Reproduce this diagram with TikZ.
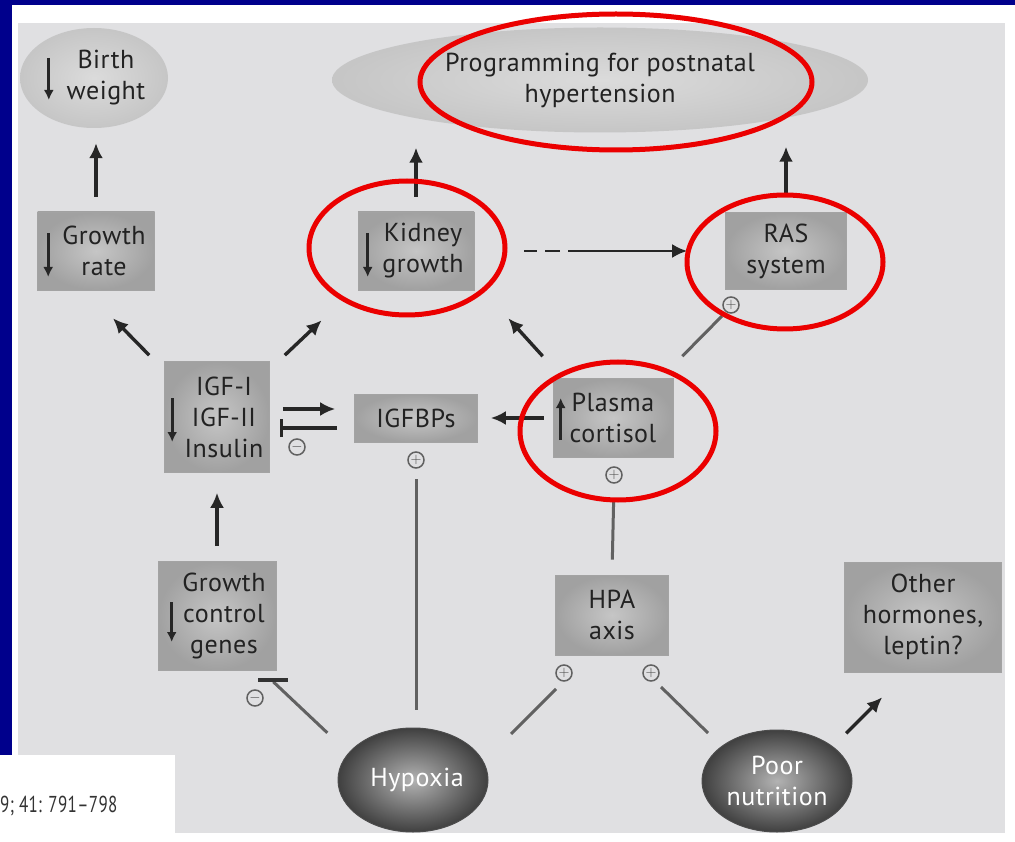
\documentclass[tikz,border=0pt]{standalone}
\usepackage{fontspec}
\setmainfont{PT Sans}[LetterSpace=2.0]
\usetikzlibrary{arrows.meta,calc,shapes.geometric}
\definecolor{navy}{RGB}{0,0,140}
\definecolor{panel}{RGB}{224,224,226}
\definecolor{txt}{RGB}{34,34,34}
\definecolor{redring}{RGB}{235,0,0}
\begin{document}
\begin{tikzpicture}[x=1pt,y=-1pt,
  font=\fontsize{26}{31}\selectfont,
  box/.style={rectangle, inner color=gray!45, outer color=gray!74, draw=gray!72, line width=0.6pt, text=txt, align=center, inner sep=0pt},
  lightell/.style={ellipse, inner color=gray!28, outer color=gray!45, text=txt, align=center, inner sep=0pt},
  darkell/.style={ellipse, inner color=black!30, outer color=black!75, draw=black!70, line width=1pt, text=white, align=center, inner sep=0pt},
  arr/.style={draw=black!85, line width=3.4pt, -{Latex[length=15pt,width=14pt]}},
  dnarr/.style={draw=black!85, line width=3.2pt, -{Latex[length=10pt,width=10pt]}},
  inh/.style={draw=black!85, line width=3.4pt, -{Bar[width=18pt,line width=3.4pt]}},
  pline/.style={draw=black!62, line width=3pt},
  sign/.style={circle, draw=black!62, line width=1.5pt, minimum size=16pt, inner sep=0pt, text=black!72, font=\fontsize{15}{15}\selectfont\bfseries},
  ring/.style={draw=redring, line width=5pt},
]
% background
\fill[navy] (0,0) rectangle (1015,842);
\fill[white] (12,5) rectangle (1015,842);
\fill[panel] (18,23) rectangle (1005,833);
\fill[white] (0,755) rectangle (175,842);
\useasboundingbox (0,0) rectangle (1015,842);
\node[anchor=west, inner sep=0pt, text=black!80, font=\fontsize{23}{23}\selectfont, xscale=0.74] (cite) at (0,806) {9; 41: 791–798};

% nodes
\node[lightell, minimum width=148pt, minimum height=100pt] (bw) at (94,78) {\hspace*{24pt}Birth\\\hspace*{24pt}weight};
\node[lightell, minimum width=536pt, minimum height=105pt] (prog) at (600,80) {Programming for postnatal\\hypertension};
\node[box, minimum width=117pt, minimum height=78pt] (gr) at (96,251) {\hspace*{16pt}Growth\\\hspace*{16pt}rate};
\node[box, minimum width=116pt, minimum height=78pt] (kg) at (416,251) {\hspace*{14pt}Kidney\\\hspace*{14pt}growth};
\node[box, minimum width=121pt, minimum height=77pt] (ras) at (786,251) {RAS\\system};
\node[box, minimum width=105pt, minimum height=111pt] (igf) at (217,417) {\hspace*{14pt}IGF-I\\\hspace*{14pt}IGF-II\\\hspace*{14pt}Insulin};
\node[box, minimum width=123pt, minimum height=48pt] (igfbps) at (416,418) {IGFBPs};
\node[box, minimum width=120pt, minimum height=79pt] (pc) at (613,418) {Plasma\\cortisol};
\node[box, minimum width=118pt, minimum height=109pt] (gcg) at (217,616) {\hspace*{14pt}Growth\\\hspace*{14pt}control\\\hspace*{14pt}genes};
\node[box, minimum width=113pt, minimum height=80pt] (hpa) at (612,615) {HPA\\axis};
\node[box, minimum width=157pt, minimum height=110pt] (oh) at (923,617) {Other\\hormones,\\leptin?};
\node[darkell, minimum width=150pt, minimum height=104pt] (hyp) at (413,780) {\hspace*{8pt}Hypoxia};
\node[darkell, minimum width=150pt, minimum height=102pt] (pn) at (777,781) {Poor\\nutrition};

% signs
\node[sign] (rasp) at (731,305) {$+$};
\node[sign] (pcp) at (614,475) {$+$};
\node[sign] (ibp) at (416,460) {$+$};
\node[sign] (igfm) at (297,447) {$-$};
\node[sign] (gcgm) at (255,698) {$-$};
\node[sign] (hpaL) at (564,673) {$+$};
\node[sign] (hpaR) at (651,673) {$+$};

% small arrows inside nodes
\draw[dnarr] ($(bw.west)+(29,-20)$) -- ($(bw.west)+(29,22)$);
\draw[dnarr] ($(gr.west)+(11,-18)$) -- ($(gr.west)+(11,26)$);
\draw[dnarr] ($(kg.west)+(10,-18)$) -- ($(kg.west)+(10,26)$);
\draw[dnarr] ($(igf.west)+(8,-19)$) -- ($(igf.west)+(8,25)$);
\draw[dnarr] ($(gcg.west)+(14,-14)$) -- ($(gcg.west)+(14,26)$);
\draw[dnarr] ($(pc.west)+(8,22)$) -- ($(pc.west)+(8,-20)$);

% connectors
\draw[arr, shorten <=15pt, shorten >=15pt] (gr.north) -- (gr.north |- bw.south);
\draw[arr, shorten <=15pt, shorten >=15pt] (kg.north) -- (kg.north |- prog.south);
\draw[arr, shorten <=17pt, shorten >=14pt] (ras.north) -- (ras.north |- prog.south);
\draw[arr, line width=2.8pt, dash pattern=on 13pt off 8pt on 15pt off 8pt on 400pt, shorten <=50pt, shorten >=38pt] (kg.east) -- (ras.west);
\draw[arr] ($(igf.north west)+(-15,-6)$) -- ($(gr.south)+(17,28)$);
\draw[arr] ($(igf.north east)+(15,-6)$) -- ($(kg.south west)+(-36,30)$);
\draw[arr] ($(pc.north west)+(-10,-22)$) -- ($(kg.south east)+(34,28)$);
\draw[pline] ($(pc.north east)+(9,-22)$) -- ($(rasp)+(-9,11)$);
\draw[arr, shorten <=9pt, shorten >=13pt] (pc.west) -- (igfbps.east);
\draw[arr, shorten <=13pt, shorten >=19pt] ($(igf.east)+(0,-8)$) -- ($(igfbps.west)+(0,-9)$);
\draw[inh, shorten <=17pt, shorten >=10pt] ($(igfbps.west)+(0,10)$) -- ($(igf.east)+(0,11)$);
\draw[pline, shorten <=18pt, shorten >=10pt] (ibp.south |- hyp.north) -- (ibp.south);
\draw[pline, shorten <=15pt, shorten >=18pt] (hpa.north) -- (pcp.south);
\draw[arr, shorten <=15pt, shorten >=20pt] (gcg.north) -- (gcg.north |- igf.south);
\draw[pline] ($(gcg.south east)+(51,62)$) -- ($(gcg.south east)+(-3,11)$);
\draw[draw=black!80, line width=3.4pt] ($(gcg.south east)+(-18,9)$) -- ++(30,0);
\draw[pline] ($(hpaL)+(-53,61)$) -- ($(hpaL)+(-8,16)$);
\draw[pline] ($(hpaR)+(57,60)$) -- ($(hpaR)+(10,14)$);
\draw[arr] ($(oh.south west)+(2,61)$) -- ($(oh.south west)+(38,25)$);

% red rings
\draw[ring] (616,82) ellipse [x radius=196, y radius=68];
\draw[ring] (407,248) ellipse [x radius=98, y radius=67];
\draw[ring] (785,262) ellipse [x radius=98, y radius=67];
\draw[ring] (618,431) ellipse [x radius=98, y radius=69];
\end{tikzpicture}
\end{document}
